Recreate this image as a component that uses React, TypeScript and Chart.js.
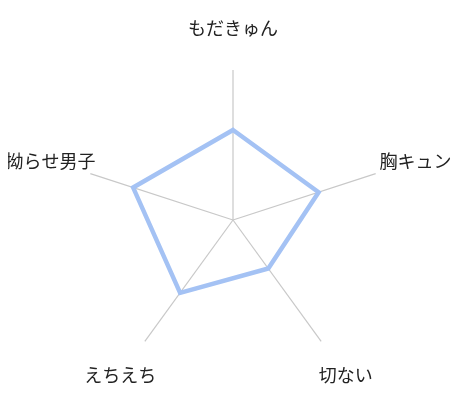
import React, { useEffect, useRef } from "react";
import { Chart, registerables } from "chart.js";

Chart.register(...registerables);

const categories = ["もだきゅん", "胸キュン", "切ない", "えちえち", "拗らせ男子"];
const seriesValues = [60, 60, 40, 60, 70];
const scaleMin = 0;
const scaleMax = 100;

const centeredLabels = {
  id: "centeredLabels",
  afterDraw(chart: any) {
    const scale = chart.scales.r;
    const ctx = chart.ctx;
    ctx.save();
    ctx.font = '18px "Noto Sans CJK SC", "Noto Sans", sans-serif';
    ctx.fillStyle = "#222222";
    ctx.textAlign = "center";
    ctx.textBaseline = "middle";
    const labels = chart.data.labels as string[];
    labels.forEach((label, i) => {
      const p = scale.getPointPosition(i, scale.drawingArea + 42);
      ctx.fillText(label, p.x, p.y);
    });
    ctx.restore();
  },
};

export default function App() {
  const canvasRef = useRef<HTMLCanvasElement | null>(null);

  useEffect(() => {
    if (!canvasRef.current) return;
    const chart = new Chart(canvasRef.current, {
      type: "radar",
      data: {
        labels: categories,
        datasets: [
          {
            data: seriesValues,
            borderColor: "#a4c2f4",
            backgroundColor: "rgba(0,0,0,0)",
            borderWidth: 4.5,
            fill: false,
            pointRadius: 0,
            pointHoverRadius: 0,
            tension: 0,
          },
        ],
      },
      options: {
        animation: false,
        responsive: true,
        maintainAspectRatio: false,
        layout: { padding: { left: 75, right: 70, top: 62, bottom: 22 } },
        plugins: { legend: { display: false }, tooltip: { enabled: false } },
        scales: {
          r: {
            min: scaleMin,
            max: scaleMax,
            grid: { display: false },
            angleLines: { display: true, color: "#c8c8c8", lineWidth: 1.2 },
            ticks: { display: false },
            pointLabels: { display: false },
          },
        },
      },
      plugins: [centeredLabels],
    });
    return () => chart.destroy();
  }, []);

  return (
    <div style={{ width: 445, height: 384, position: "relative" }}>
      <canvas ref={canvasRef} />
    </div>
  );
}
